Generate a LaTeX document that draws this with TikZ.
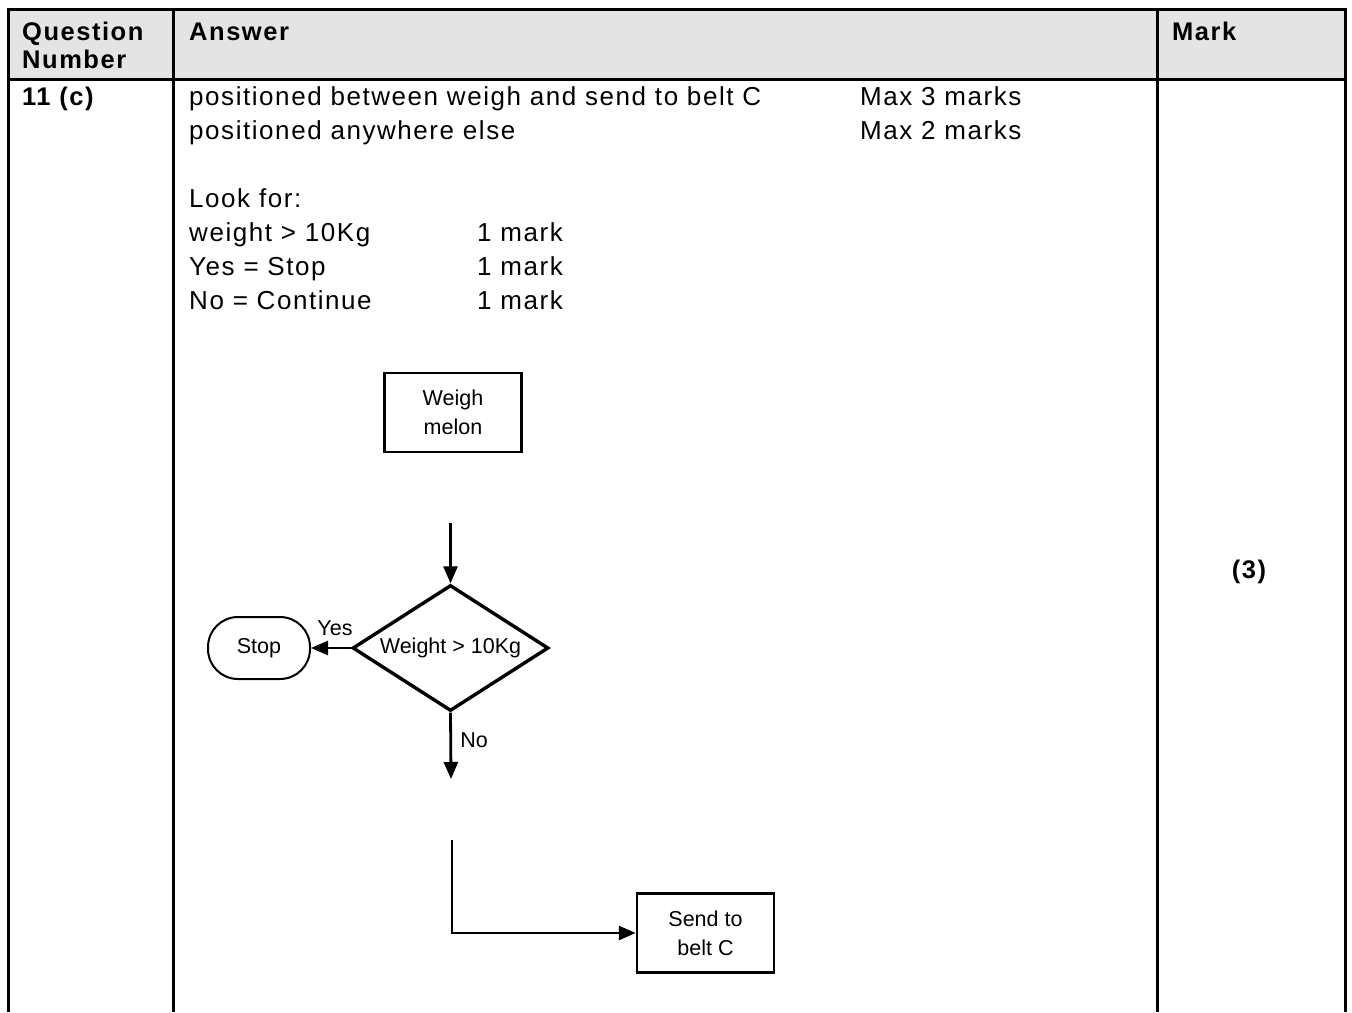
\documentclass[tikz,border=0pt]{standalone}
\usepackage{fontspec}
\setmainfont{Liberation Sans}
\newfontfamily\bodyfont{Liberation Sans}[LetterSpace=6]
\newfontfamily\chartfont{Liberation Sans}
\usetikzlibrary{shapes.geometric,arrows.meta}
\definecolor{hdrgray}{HTML}{E4E4E4}
\begin{document}
\begin{tikzpicture}[x=1pt,y=-1pt,
 grid/.style={line width=3pt},
 txt/.style={anchor=base west,inner sep=0pt,font=\bodyfont\fontsize{26}{30}\selectfont},
 hdr/.style={anchor=base west,inner sep=0pt,font=\bodyfont\bfseries\fontsize{25.5}{30}\selectfont},
 box/.style={draw,line width=2.5pt,minimum width=137pt,minimum height=79pt,align=center,inner sep=0pt,font=\chartfont\fontsize{21.5}{29}\selectfont},
 flow/.style={line width=2.8pt,-{Triangle[length=17pt,width=14pt]}},
 lbl/.style={inner sep=0pt,font=\chartfont\fontsize{21.5}{26}\selectfont}
]
\useasboundingbox (0,0) rectangle (1352,1012);
% table
\fill[hdrgray] (8,9) rectangle (1345,79);
\draw[grid] (8,9) -- (1345,9);
\draw[grid] (8,79) -- (1345,79);
\draw[grid] (8,7.5) -- (8,1012);
\draw[grid] (173,9) -- (173,1012);
\draw[grid] (1157,9) -- (1157,1012);
\draw[grid] (1345,7.5) -- (1345,1012);
% header
\node[hdr] (q1) at (22,40) {Question};
\node[hdr] (q2) at (22,68) {Number};
\node[hdr] (ans) at (189,40) {Answer};
\node[hdr] (mark) at (1172,40) {Mark};
% body text
\node[hdr] (qn) at (22,105) {11 (c)};
\node[txt] (l1) at (189,105) {positioned between weigh and send to belt C};
\node[txt] (m1) at (860,105) {Max 3 marks};
\node[txt] (l2) at (189,139) {positioned anywhere else};
\node[txt] (m2) at (860,139) {Max 2 marks};
\node[txt] (look) at (189,207) {Look for:};
\node[txt] (c1) at (189,241) {weight > 10Kg};
\node[txt] (k1) at (477,241) {1 mark};
\node[txt] (c2) at (189,275) {Yes = Stop};
\node[txt] (k2) at (477,275) {1 mark};
\node[txt] (c3) at (189,309) {No = Continue};
\node[txt] (k3) at (477,309) {1 mark};
\node[hdr,anchor=base] (three) at (1249,578) {(3)};
% flowchart
\node[box] (weigh) at (453,412.5) {Weigh\\melon};
\node[box] (send) at (705.5,933) {Send to\\belt C};
\node[draw,diamond,line width=3.4pt,aspect=1.55,minimum width=196pt,minimum height=126pt,inner sep=0pt,font=\chartfont\fontsize{21.5}{26}\selectfont] (dec) at (450.5,648) {Weight > 10Kg};
\node[draw,line width=2pt,rounded corners=30pt,minimum width=102pt,minimum height=62pt,inner sep=0pt,font=\chartfont\fontsize{21.5}{26}\selectfont] (stop) at (259,648) {Stop};
\coordinate (a1) at (450.5,523);
\coordinate (nend) at (451,779);
\coordinate (lstart) at (452,840);
\draw[flow] (a1) -- (dec.north);
\draw[flow] (dec.west) -- (stop.east);
\draw[flow] (dec.south) -- (nend);
\draw[flow] (lstart) |- (send.west);
\node[lbl] (yes) at (335,628) {Yes};
\node[lbl] (no) at (474,740) {No};
\end{tikzpicture}
\end{document}
